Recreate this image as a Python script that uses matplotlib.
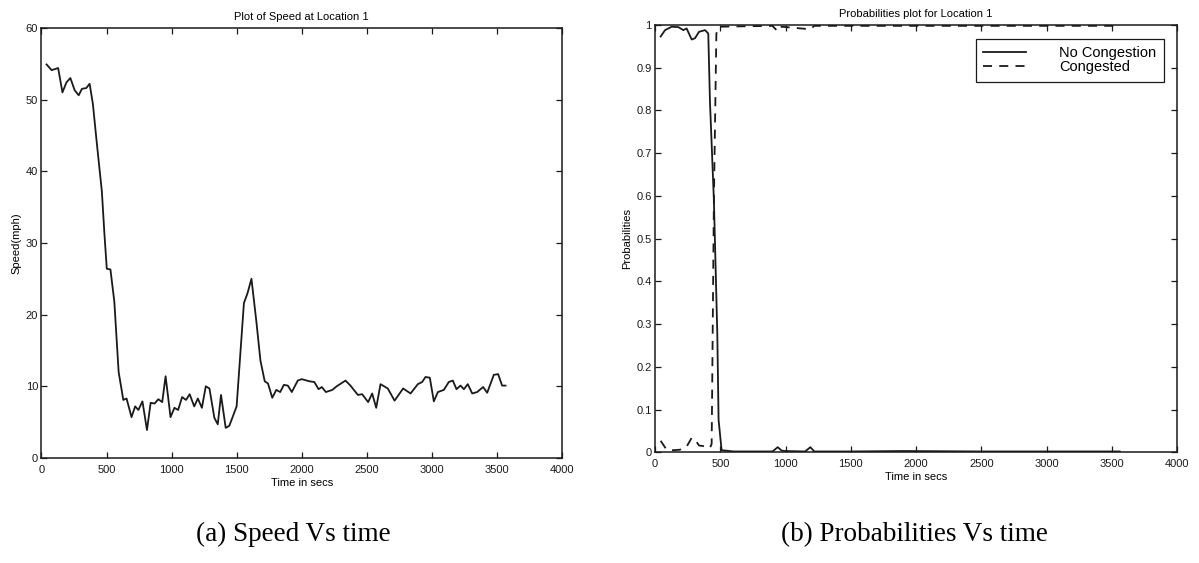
import matplotlib
matplotlib.use("Agg")
import matplotlib.pyplot as plt

# speed at location 1
speed_t = [39, 78, 128, 161, 192, 222, 255, 286, 311, 344, 370, 395, 426, 464, 484, 502,
           530, 560, 593, 629, 654, 692, 720, 745, 776, 811, 839, 870, 898, 928, 954, 992,
           1022, 1050, 1081, 1111, 1139, 1174, 1202, 1233, 1263, 1291, 1329, 1355, 1380,
           1416, 1444, 1500, 1556, 1584, 1614, 1652, 1683, 1716, 1741, 1774, 1805, 1835,
           1863, 1894, 1924, 1970, 2000, 2060, 2097, 2130, 2155, 2186, 2236, 2269, 2337,
           2375, 2432, 2465, 2511, 2542, 2573, 2606, 2662, 2714, 2780, 2837, 2893, 2926,
           2952, 2985, 3016, 3047, 3093, 3131, 3162, 3190, 3221, 3247, 3277, 3311, 3349,
           3395, 3426, 3477, 3510, 3541, 3567]
speed_v = [54.9, 54.1, 54.4, 51.0, 52.4, 53.0, 51.3, 50.6, 51.5, 51.6, 52.2, 49.4, 43.8, 37.2,
           31.2, 26.4, 26.3, 21.8, 12.0, 8.1, 8.3, 5.7, 7.2, 6.7, 7.9, 3.9, 7.7, 7.6, 8.2, 7.8,
           11.4, 5.7, 7.0, 6.7, 8.5, 8.1, 8.9, 7.2, 8.3, 7.0, 10.0, 9.7, 5.6, 4.7, 8.8, 4.2,
           4.5, 7.2, 21.6, 23.0, 25.0, 19.0, 13.6, 10.7, 10.4, 8.4, 9.5, 9.2, 10.2, 10.1, 9.2,
           10.8, 11.0, 10.7, 10.6, 9.6, 9.9, 9.2, 9.5, 10.0, 10.8, 10.1, 8.8, 8.9, 7.8, 9.0,
           7.0, 10.3, 9.7, 8.0, 9.7, 9.0, 10.3, 10.6, 11.3, 11.2, 7.9, 9.2, 9.5, 10.6, 10.8,
           9.6, 10.1, 9.6, 10.3, 9.0, 9.2, 9.9, 9.1, 11.6, 11.7, 10.1, 10.1]

# state probabilities
nocong_t = [43, 77, 128, 179, 217, 242, 281, 306, 337, 383, 408, 421, 451, 477, 487, 510,
            600, 900, 940, 970, 1000, 1150, 1190, 1220, 1500, 1900, 2500, 3000, 3560]
nocong_p = [0.973, 0.988, 0.996, 0.995, 0.988, 0.992, 0.966, 0.969, 0.984, 0.988, 0.980,
            0.82, 0.59, 0.28, 0.076, 0.005, 0.002, 0.002, 0.012, 0.004, 0.003, 0.002, 0.012,
            0.002, 0.002, 0.003, 0.002, 0.002, 0.002]
cong_t = [43, 89, 140, 190, 240, 281, 306, 337, 383, 421, 434, 451, 470, 490,
          900, 940, 970, 1190, 1220, 2000, 3000, 3560]
cong_p = [0.027, 0.006, 0.005, 0.006, 0.012, 0.034, 0.030, 0.016, 0.014, 0.010, 0.02,
          0.59, 0.98, 0.996, 0.998, 0.985, 0.996, 0.99, 0.998, 0.998, 0.998, 0.998]

plt.rcParams['font.family'] = ['Liberation Sans', 'DejaVu Sans']
ink = '#1a1a1a'

fig = plt.figure(figsize=(11.99, 5.63), dpi=100)


def style_axes(ax):
    ax.tick_params(direction='in', top=True, right=True, length=4, width=0.9,
                   labelsize=8, colors=ink)
    ax.tick_params(axis='x', pad=5)
    ax.tick_params(axis='y', pad=2.5)
    for s in ax.spines.values():
        s.set_linewidth(1.1)
        s.set_color(ink)
    ax.set_xlim(0, 4000)
    ax.set_xticks(range(0, 4001, 500))
    ax.set_xlabel('Time in secs', fontsize=8, labelpad=2)


# (a) speed
ax1 = fig.add_axes([0.0346, 0.1865, 0.434, 0.764])
ax1.plot(speed_t, speed_v, color=ink, lw=1.3)
ax1.set_ylim(0, 60)
ax1.set_yticks(range(0, 61, 10))
style_axes(ax1)
ax1.set_ylabel('Speed(mph)', fontsize=8, labelpad=3)
ax1.set_title('Plot of Speed at Location 1', fontsize=8, pad=6)

# (b) probabilities
ax2 = fig.add_axes([0.5463, 0.1966, 0.4355, 0.759])
ax2.plot(nocong_t, nocong_p, color=ink, lw=1.3, label='No Congestion')
ax2.plot(cong_t, cong_p, color=ink, lw=1.3, ls=(0, (5, 4)), label='Congested')
ax2.set_ylim(0, 1)
ax2.set_yticks([i / 10 for i in range(11)])
ax2.set_yticklabels(['0', '0.1', '0.2', '0.3', '0.4', '0.5', '0.6', '0.7', '0.8', '0.9', '1'])
style_axes(ax2)
ax2.set_ylabel('Probabilities', fontsize=8, labelpad=3)
ax2.set_title('Probabilities plot for Location 1', fontsize=8, pad=6)
leg = ax2.legend(loc='upper right', bbox_to_anchor=(0.988, 0.984), fontsize=10.5,
                 handlelength=2.9, handletextpad=2.3, labelspacing=0.0,
                 borderpad=0.5, fancybox=False, framealpha=1, edgecolor=ink)
leg.get_frame().set_linewidth(0.9)

# captions under the two panels
fig.text(0.245, 0.05, '(a) Speed Vs time', family='Liberation Serif', fontsize=19.5,
         ha='center', va='center')
fig.text(0.763, 0.05, '(b) Probabilities Vs time', family='Liberation Serif', fontsize=19.5,
         ha='center', va='center')

fig.savefig('out.png', dpi=100)
